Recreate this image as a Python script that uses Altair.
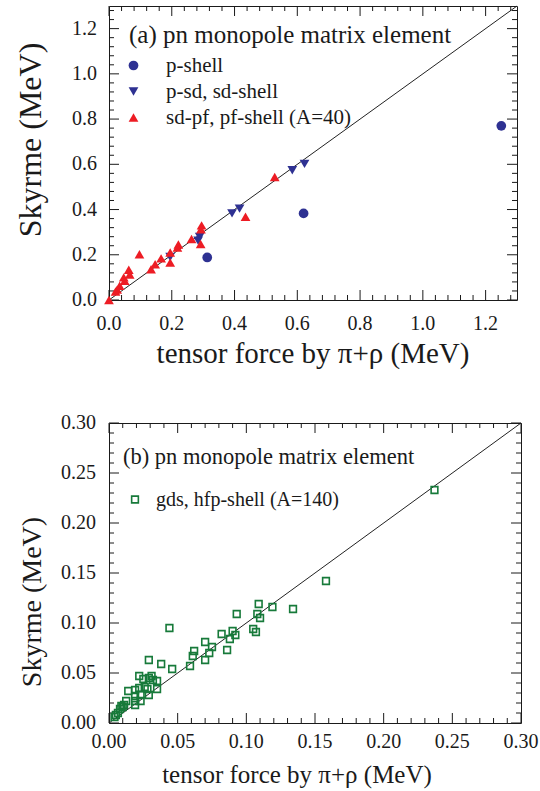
import altair as alt
import pandas as pd

FONT = "Liberation Serif"
INK = "#1a1a1a"

# ---------------- panel (a): pn monopole matrix elements (MeV) ----------------
a_labels = ["p-shell", "p-sd, sd-shell", "sd-pf, pf-shell (A=40)"]
a_colors = ["#2e3192", "#2e3192", "#ed1c24"]
a_shapes = ["circle", "triangle-down", "triangle-up"]

p_shell_x = [1.25, 0.62, 0.313]
p_shell_y = [0.77, 0.383, 0.188]

psd_x = [0.623, 0.584, 0.416, 0.392, 0.289, 0.284, 0.195]
psd_y = [0.602, 0.574, 0.404, 0.383, 0.279, 0.262, 0.190]

sdpf_x = [0.528, 0.435, 0.295, 0.293, 0.292, 0.263, 0.221, 0.218, 0.195, 0.195, 0.166,
          0.147, 0.134, 0.097, 0.066, 0.063, 0.050, 0.047, 0.034, 0.026, 0.021, 0.0]
sdpf_y = [0.544, 0.368, 0.330, 0.313, 0.248, 0.270, 0.245, 0.232, 0.210, 0.166, 0.184,
          0.158, 0.136, 0.202, 0.113, 0.134, 0.085, 0.100, 0.063, 0.046, 0.038, 0.0]

a_diag = [0.0, 1.3]
a_major = [0.0, 0.2, 0.4, 0.6, 0.8, 1.0, 1.2]
a_minor = [round(0.04 * i, 2) for i in range(1, 33) if i % 5 != 0]

# ---------------- panel (b): gds, hfp-shell (A=140) ----------------
b_label = "gds, hfp-shell (A=140)"
b_color = "#177a3a"

gds_x = [0.237, 0.158, 0.134, 0.119, 0.109, 0.108, 0.110, 0.105, 0.107, 0.093,
         0.090, 0.092, 0.088, 0.082, 0.086, 0.075, 0.073, 0.070, 0.070, 0.062,
         0.061, 0.059, 0.044, 0.038, 0.046, 0.029, 0.022, 0.025, 0.029, 0.031,
         0.032, 0.035, 0.026, 0.022, 0.028, 0.035, 0.014, 0.019, 0.023, 0.029,
         0.019, 0.0125, 0.019, 0.023, 0.019, 0.011, 0.010, 0.009, 0.008, 0.0065,
         0.005, 0.004]
gds_y = [0.233, 0.142, 0.114, 0.116, 0.119, 0.109, 0.105, 0.094, 0.091, 0.109,
         0.092, 0.088, 0.084, 0.089, 0.073, 0.076, 0.070, 0.081, 0.063, 0.072,
         0.067, 0.057, 0.095, 0.059, 0.054, 0.063, 0.047, 0.044, 0.045, 0.047,
         0.043, 0.042, 0.036, 0.035, 0.034, 0.034, 0.032, 0.033, 0.028, 0.028,
         0.027, 0.022, 0.022, 0.022, 0.018, 0.018, 0.016, 0.017, 0.014, 0.010,
         0.008, 0.006]

b_diag = [0.0, 0.30]
b_major = [0.0, 0.05, 0.10, 0.15, 0.20, 0.25, 0.30]
b_minor = [round(0.01 * i, 2) for i in range(1, 30) if i % 5 != 0]

XTITLE = "tensor force by \u03c0+\u03c1 (MeV)"
YTITLE = "Skyrme (MeV)"

MAJOR, MINOR = 10, 5


def X(field, scale):
    return alt.X(field, scale=scale, axis=None)


def Y(field, scale):
    return alt.Y(field, scale=scale, axis=None)


def edge_ticks(values, xs, ys, dom, width, height, length):
    """Inward tick rules on all four sides of the frame."""
    df = pd.DataFrame({"t": values})
    ly = (dom[1] - dom[0]) * length / height   # tick length in y data units
    lx = (dom[1] - dom[0]) * length / width    # tick length in x data units
    rule = dict(color=INK, strokeWidth=1, opacity=1)
    bottom = alt.Chart(df).mark_rule(**rule).encode(
        x=X("t:Q", xs),
        y=alt.YDatum(dom[0], scale=ys, axis=None),
        y2=alt.Y2Datum(dom[0] + ly))
    top = alt.Chart(df).mark_rule(**rule).encode(
        x=X("t:Q", xs),
        y=alt.YDatum(dom[1], scale=ys, axis=None),
        y2=alt.Y2Datum(dom[1] - ly))
    left = alt.Chart(df).mark_rule(**rule).encode(
        y=Y("t:Q", ys),
        x=alt.XDatum(dom[0], scale=xs, axis=None),
        x2=alt.X2Datum(dom[0] + lx))
    right = alt.Chart(df).mark_rule(**rule).encode(
        y=Y("t:Q", ys),
        x=alt.XDatum(dom[1], scale=xs, axis=None),
        x2=alt.X2Datum(dom[1] - lx))
    return [bottom, top, left, right]


def axis_text(values, xs, ys, dom, fmt, lsize, xl_dy, yl_dx,
              xt_size, xt_dy, xt_dx, yt_size, yt_dy, yt_dx):
    """Tick labels and axis titles, placed at the frame edges."""
    df = pd.DataFrame({"t": values})
    one = pd.DataFrame({"t": [dom[0]]})
    mid = (dom[0] + dom[1]) / 2
    base = dict(font=FONT, color=INK)
    xlabels = alt.Chart(df).mark_text(baseline="top", align="center", dy=xl_dy,
                                      fontSize=lsize, **base).encode(
        x=X("t:Q", xs), y=alt.YDatum(dom[0], scale=ys, axis=None),
        text=alt.Text("t:Q", format=fmt))
    ylabels = alt.Chart(df).mark_text(baseline="middle", align="right", dx=yl_dx,
                                      fontSize=lsize, **base).encode(
        y=Y("t:Q", ys), x=alt.XDatum(dom[0], scale=xs, axis=None),
        text=alt.Text("t:Q", format=fmt))
    xtitle = alt.Chart(one).mark_text(text=XTITLE, baseline="top", align="center",
                                      dy=xt_dy, dx=xt_dx, fontSize=xt_size, **base).encode(
        x=alt.XDatum(mid, scale=xs, axis=None), y=alt.YDatum(dom[0], scale=ys, axis=None))
    ytitle = alt.Chart(one).mark_text(text=YTITLE, angle=270, baseline="bottom",
                                      align="center", dy=yt_dy, dx=yt_dx,
                                      fontSize=yt_size, **base).encode(
        x=alt.XDatum(dom[0], scale=xs, axis=None), y=alt.YDatum(mid, scale=ys, axis=None))
    return [xlabels, ylabels, xtitle, ytitle]


# ---------- panel (a) ----------
AW, AH = 408, 294
a_df = pd.concat([
    pd.DataFrame({"x": p_shell_x, "y": p_shell_y, "s": a_labels[0]}),
    pd.DataFrame({"x": psd_x, "y": psd_y, "s": a_labels[1]}),
    pd.DataFrame({"x": sdpf_x, "y": sdpf_y, "s": a_labels[2]}),
], ignore_index=True)
a_diag_df = pd.DataFrame({"v": a_diag})
a_xs = alt.Scale(domain=a_diag, nice=False, zero=False)
a_ys = alt.Scale(domain=a_diag, nice=False, zero=False)

a_legend = alt.Legend(
    orient="none", legendX=20, legendY=17, padding=0,
    title="(a) pn monopole matrix element", titleFont=FONT, titleFontSize=25,
    titleFontWeight="normal", titleColor=INK, titleLimit=600, titlePadding=7,
    labelFont=FONT, labelFontSize=21, labelColor=INK, labelLimit=600,
    labelOffset=22, symbolOffset=-6, symbolSize=95, rowPadding=4,
)

a_line = alt.Chart(a_diag_df).mark_line(color="#222222", strokeWidth=1).encode(
    x=X("v:Q", a_xs), y=Y("v:Q", a_ys))
a_points = alt.Chart(a_df).mark_point(filled=True, size=95, opacity=1).encode(
    x=X("x:Q", a_xs),
    y=Y("y:Q", a_ys),
    color=alt.Color("s:N", scale=alt.Scale(domain=a_labels, range=a_colors), legend=a_legend),
    shape=alt.Shape("s:N", scale=alt.Scale(domain=a_labels, range=a_shapes), legend=a_legend),
)

panel_a = alt.layer(
    a_line,
    *edge_ticks(a_major, a_xs, a_ys, a_diag, AW, AH, MAJOR),
    *edge_ticks(a_minor, a_xs, a_ys, a_diag, AW, AH, MINOR),
    *axis_text(a_major, a_xs, a_ys, a_diag, ".1f", 20, 14, -12,
               29, 40, 0, 32, -61, 13),
    a_points,
).properties(width=AW, height=AH)

# ---------- panel (b) ----------
BW, BH = 412, 300
b_df = pd.DataFrame({"x": gds_x, "y": gds_y, "s": b_label})
b_diag_df = pd.DataFrame({"v": b_diag})
b_xs = alt.Scale(domain=b_diag, nice=False, zero=False)
b_ys = alt.Scale(domain=b_diag, nice=False, zero=False)

b_legend = alt.Legend(
    orient="none", legendX=14, legendY=23, padding=0,
    title="(b) pn monopole matrix element", titleFont=FONT, titleFontSize=22.5,
    titleFontWeight="normal", titleColor=INK, titleLimit=600, titlePadding=21,
    labelFont=FONT, labelFontSize=20, labelColor=INK, labelLimit=600,
    labelOffset=11, symbolOffset=2, symbolSize=45, symbolStrokeWidth=1.6,
)

b_line = alt.Chart(b_diag_df).mark_line(color="#222222", strokeWidth=1).encode(
    x=X("v:Q", b_xs), y=Y("v:Q", b_ys))
b_points = alt.Chart(b_df).mark_point(shape="square", filled=False, size=45,
                                      strokeWidth=1.6, opacity=1).encode(
    x=X("x:Q", b_xs),
    y=Y("y:Q", b_ys),
    color=alt.Color("s:N", scale=alt.Scale(domain=[b_label], range=[b_color]), legend=b_legend),
)

panel_b = alt.layer(
    b_line,
    *edge_ticks(b_major, b_xs, b_ys, b_diag, BW, BH, MAJOR),
    *edge_ticks(b_minor, b_xs, b_ys, b_diag, BW, BH, MINOR),
    *axis_text(b_major, b_xs, b_ys, b_diag, ".2f", 20, 9, -13,
               25, 40, -18, 28, -62, -29),
    b_points,
).properties(width=BW, height=BH)

chart = alt.vconcat(panel_a, panel_b, spacing=42).resolve_scale(
    color="independent", shape="independent"
).properties(
    padding={"left": 14, "top": 3, "right": 0, "bottom": 0},
    background="white",
).configure_view(stroke=INK, strokeWidth=1)

chart.save("out.html", embed_options={"renderer": "svg", "actions": False})
